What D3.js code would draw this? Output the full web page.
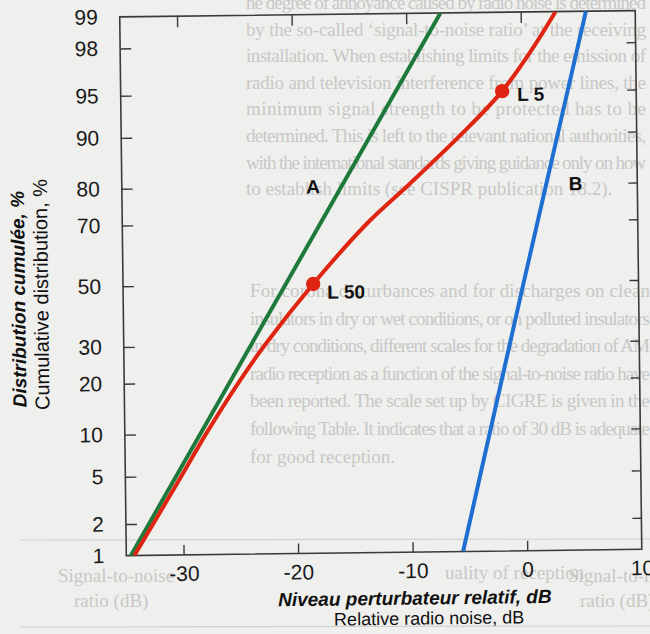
<!DOCTYPE html>
<html>
<head>
<meta charset="utf-8">
<script src="https://cdn.jsdelivr.net/npm/d3@7"></script>
<style>
  html, body { margin: 0; padding: 0; background: #efefed; }
  svg { display: block; }
</style>
</head>
<body>
<svg id="chart" width="650" height="634"></svg>
<script>
// ---- data -------------------------------------------------------------
const percentTicks = [1, 2, 5, 10, 20, 30, 50, 70, 80, 90, 95, 98, 99];
const dbTicks = [-30, -20, -10, 0, 10];

// curve A (green)
const aPercent = [1, 10, 50, 90, 99];
const aDb = [-34.6, -28.4, -20.8, -13.2, -7.0];

// curve L (red)
const lPercent = [1, 5, 10, 20, 30, 50, 70, 80, 90, 95, 98, 99];
const lDb = [-34.3, -30.1, -27.9, -25.0, -22.7, -18.4, -13.55, -10.0, -5.25, -1.7, 1.3, 3.05];

// curve B (blue)
const bPercent = [1, 50, 99];
const bDb = [-5.6, 0.0, 5.7];

// marked levels on curve L
const markerNames = ["L 5", "L 50"];
const markerPercent = [95, 50];
const markerDb = [-1.7, -18.4];

// faint text printed behind the figure
const backText1 = [
  "ne degree of annoyance caused by radio noise is determined",
  "by the so-called \u2018signal-to-noise ratio\u2019 at the receiving",
  "installation. When establishing limits for the emission of",
  "radio and television interference from power lines, the",
  "minimum signal strength to be protected has to be",
  "determined. This is left to the relevant national authorities,",
  "with the international standards giving guidance only on how",
  "to establish limits (see CISPR publication 18.2)."
];
const backText2 = [
  "For corona disturbances and for discharges on clean",
  "insulators in dry or wet conditions, or on polluted insulators",
  "in dry conditions, different scales for the degradation of AM",
  "radio reception as a function of the signal-to-noise ratio have",
  "been reported. The scale set up by CIGRE is given in the",
  "following Table. It indicates that a ratio of 30 dB is adequate",
  "for good reception."
];

// ---- normal quantile (probability paper) ------------------------------
function probit(p) {
  const a = [-3.969683028665376e+01, 2.209460984245205e+02, -2.759285104469687e+02,
             1.383577518672690e+02, -3.066479806614716e+01, 2.506628277459239e+00];
  const b = [-5.447609879822406e+01, 1.615858368580409e+02, -1.556989798598866e+02,
             6.680131188771972e+01, -1.328068155288572e+01];
  const c = [-7.784894002430293e-03, -3.223964580411365e-01, -2.400758277161838e+00,
             -2.549732539343734e+00, 4.374664141464968e+00, 2.938163982698783e+00];
  const d = [7.784695709041462e-03, 3.224671290700398e-01, 2.445134137142996e+00,
             3.754408661907416e+00];
  const pl = 0.02425, ph = 1 - pl;
  let q, r;
  if (p < pl) {
    q = Math.sqrt(-2 * Math.log(p));
    return (((((c[0]*q+c[1])*q+c[2])*q+c[3])*q+c[4])*q+c[5]) / ((((d[0]*q+d[1])*q+d[2])*q+d[3])*q+1);
  }
  if (p <= ph) {
    q = p - 0.5; r = q * q;
    return (((((a[0]*r+a[1])*r+a[2])*r+a[3])*r+a[4])*r+a[5])*q / (((((b[0]*r+b[1])*r+b[2])*r+b[3])*r+b[4])*r+1);
  }
  q = Math.sqrt(-2 * Math.log(1 - p));
  return -(((((c[0]*q+c[1])*q+c[2])*q+c[3])*q+c[4])*q+c[5]) / ((((d[0]*q+d[1])*q+d[2])*q+d[3])*q+1);
}

// ---- layout -------------------------------------------------------------
const frame = { left: 123, right: 638.5, top: 13.7, bottom: 552.5 };

const x = d3.scaleLinear().domain([-35, 10]).range([frame.left, frame.right]);
const zScale = d3.scaleLinear()
  .domain([probit(0.01), probit(0.99)])
  .range([frame.bottom, frame.top]);

// probability scale in percent, usable by d3.axis
function yP(pct) { return zScale(probit(pct / 100)); }
yP.range = () => zScale.range();
yP.domain = () => [1, 99];
yP.copy = () => yP;

const svg = d3.select("#chart");

// ---- faint background text ---------------------------------------------
const back = svg.append("g")
  .attr("font-family", "'Liberation Serif', 'DejaVu Serif', serif")
  .attr("font-size", 19)
  .attr("fill", "#c8c8c6");

back.selectAll("text.p1").data(backText1).join("text")
  .attr("class", "p1")
  .attr("x", 246)
  .attr("y", (d, i) => 9 + i * 26.6)
  .attr("textLength", (d, i) => i === backText1.length - 1 ? null : 400)
  .attr("lengthAdjust", "spacing")
  .text(d => d);

back.selectAll("text.p2").data(backText2).join("text")
  .attr("class", "p2")
  .attr("x", 250)
  .attr("y", (d, i) => 297 + i * 27.6)
  .attr("textLength", (d, i) => i === backText2.length - 1 ? null : 400)
  .attr("lengthAdjust", "spacing")
  .text(d => d);

back.append("text").attr("x", 445).attr("y", 579).text("uality of reception");
back.append("text").attr("x", 58).attr("y", 582).text("Signal-to-noise");
back.append("text").attr("x", 74).attr("y", 607).text("ratio (dB)");
back.append("text").attr("x", 568).attr("y", 582).text("Signal-to-noise");
back.append("text").attr("x", 580).attr("y", 607).text("ratio (dB)");
back.append("line").attr("x1", 20).attr("x2", 650).attr("y1", 540).attr("y2", 539)
  .attr("stroke", "#d2d2d0").attr("stroke-width", 1.2);
back.append("line").attr("x1", 20).attr("x2", 650).attr("y1", 627).attr("y2", 626)
  .attr("stroke", "#d2d2d0").attr("stroke-width", 1.2);

// ---- chart (printed slightly askew) -------------------------------------
const cx = (frame.left + frame.right) / 2, cy = (frame.top + frame.bottom) / 2;
const g = svg.append("g").attr("transform", `rotate(-0.7, ${cx}, ${cy})`);

g.append("defs").append("clipPath").attr("id", "plotClip")
  .append("rect")
  .attr("x", frame.left).attr("y", frame.top)
  .attr("width", frame.right - frame.left).attr("height", frame.bottom - frame.top);

const axisColor = "#3a3a3a";
const tickFont = "'Liberation Sans', Arial, sans-serif";

// left axis with labels
const leftAxis = g.append("g")
  .attr("transform", `translate(${frame.left},0)`)
  .call(d3.axisLeft(yP).tickValues(percentTicks).tickSize(-11).tickPadding(22).tickFormat(d => d));
// right axis ticks
const rightAxis = g.append("g")
  .attr("transform", `translate(${frame.right},0)`)
  .call(d3.axisRight(yP).tickValues(percentTicks.slice(1, -1)).tickSize(-9).tickFormat(""));
// bottom axis with labels
const bottomAxis = g.append("g")
  .attr("transform", `translate(0,${frame.bottom})`)
  .call(d3.axisBottom(x).tickValues(dbTicks).tickSize(-10).tickPadding(11).tickFormat(d => d));
// top axis ticks
const topAxis = g.append("g")
  .attr("transform", `translate(0,${frame.top})`)
  .call(d3.axisTop(x).tickValues(dbTicks.slice(0, -1)).tickSize(-11).tickFormat(""));

[leftAxis, rightAxis, bottomAxis, topAxis].forEach(ax => {
  ax.select(".domain").remove();
  ax.selectAll(".tick line").attr("stroke", axisColor).attr("stroke-width", 1.4);
  ax.selectAll(".tick text")
    .attr("font-family", tickFont).attr("font-size", 21).attr("fill", "#1a1a1a");
});
leftAxis.selectAll(".tick line").filter(d => d === 1 || d === 99).remove();
bottomAxis.selectAll(".tick line").filter(d => d === 10).remove();

// frame
g.append("rect")
  .attr("x", frame.left).attr("y", frame.top)
  .attr("width", frame.right - frame.left).attr("height", frame.bottom - frame.top)
  .attr("fill", "none").attr("stroke", axisColor).attr("stroke-width", 1.6);

// curves
const line = d3.line()
  .x(d => x(d[1]))
  .y(d => yP(d[0]));

const plot = g.append("g").attr("clip-path", "url(#plotClip)");

const seriesA = aPercent.map((p, i) => [p, aDb[i]]);
const seriesL = lPercent.map((p, i) => [p, lDb[i]]);
const seriesB = bPercent.map((p, i) => [p, bDb[i]]);

plot.append("path").datum(seriesA)
  .attr("d", line).attr("fill", "none")
  .attr("stroke", "#1d7a3c").attr("stroke-width", 4);

plot.append("path").datum(seriesB)
  .attr("d", line).attr("fill", "none")
  .attr("stroke", "#1f6fd2").attr("stroke-width", 4);

plot.append("path").datum(seriesL)
  .attr("d", line.curve(d3.curveCatmullRom.alpha(0.5))).attr("fill", "none")
  .attr("stroke", "#df2412").attr("stroke-width", 4);

// marked levels
const markers = markerNames.map((n, i) => ({ name: n, p: markerPercent[i], db: markerDb[i] }));
const labelFont = "'Liberation Sans', Arial, sans-serif";

g.selectAll("circle.marker").data(markers).join("circle")
  .attr("class", "marker")
  .attr("cx", d => x(d.db)).attr("cy", d => yP(d.p))
  .attr("r", 7.2).attr("fill", "#df2412");

g.selectAll("text.marker").data(markers).join("text")
  .attr("class", "marker")
  .attr("x", d => x(d.db) + (d.p === 50 ? 14 : 15))
  .attr("y", d => yP(d.p) + (d.p === 50 ? 15 : 10))
  .attr("font-family", labelFont).attr("font-weight", "bold").attr("font-size", 19)
  .attr("fill", "#111")
  .text(d => d.name);

// curve names
const curveNames = ["A", "B"];
const curveNamePct = [80, 80];
const curveNameDb = [-18.3, 4.6];
g.selectAll("text.cname").data(curveNames).join("text")
  .attr("class", "cname")
  .attr("x", (d, i) => x(curveNameDb[i]))
  .attr("y", (d, i) => yP(curveNamePct[i]) + 7)
  .attr("text-anchor", "middle")
  .attr("font-family", labelFont).attr("font-weight", "bold").attr("font-size", 19)
  .attr("fill", "#111")
  .text(d => d);

// axis titles
const xTitle = g.append("g").attr("font-family", labelFont).attr("fill", "#111")
  .attr("text-anchor", "middle");
xTitle.append("text").attr("x", 411).attr("y", 605)
  .attr("font-size", 19).attr("font-weight", "bold").attr("font-style", "italic")
  .text("Niveau perturbateur relatif, dB");
xTitle.append("text").attr("x", 425).attr("y", 625)
  .attr("font-size", 18)
  .text("Relative radio noise, dB");

const yTitle = g.append("g").attr("font-family", labelFont).attr("fill", "#111");
yTitle.append("text")
  .attr("transform", "translate(25,403) rotate(-90)")
  .attr("font-size", 19).attr("font-weight", "bold").attr("font-style", "italic")
  .text("Distribution cumulée, %");
yTitle.append("text")
  .attr("transform", "translate(48,406) rotate(-90)")
  .attr("font-size", 20)
  .text("Cumulative distribution, %");
</script>
</body>
</html>
